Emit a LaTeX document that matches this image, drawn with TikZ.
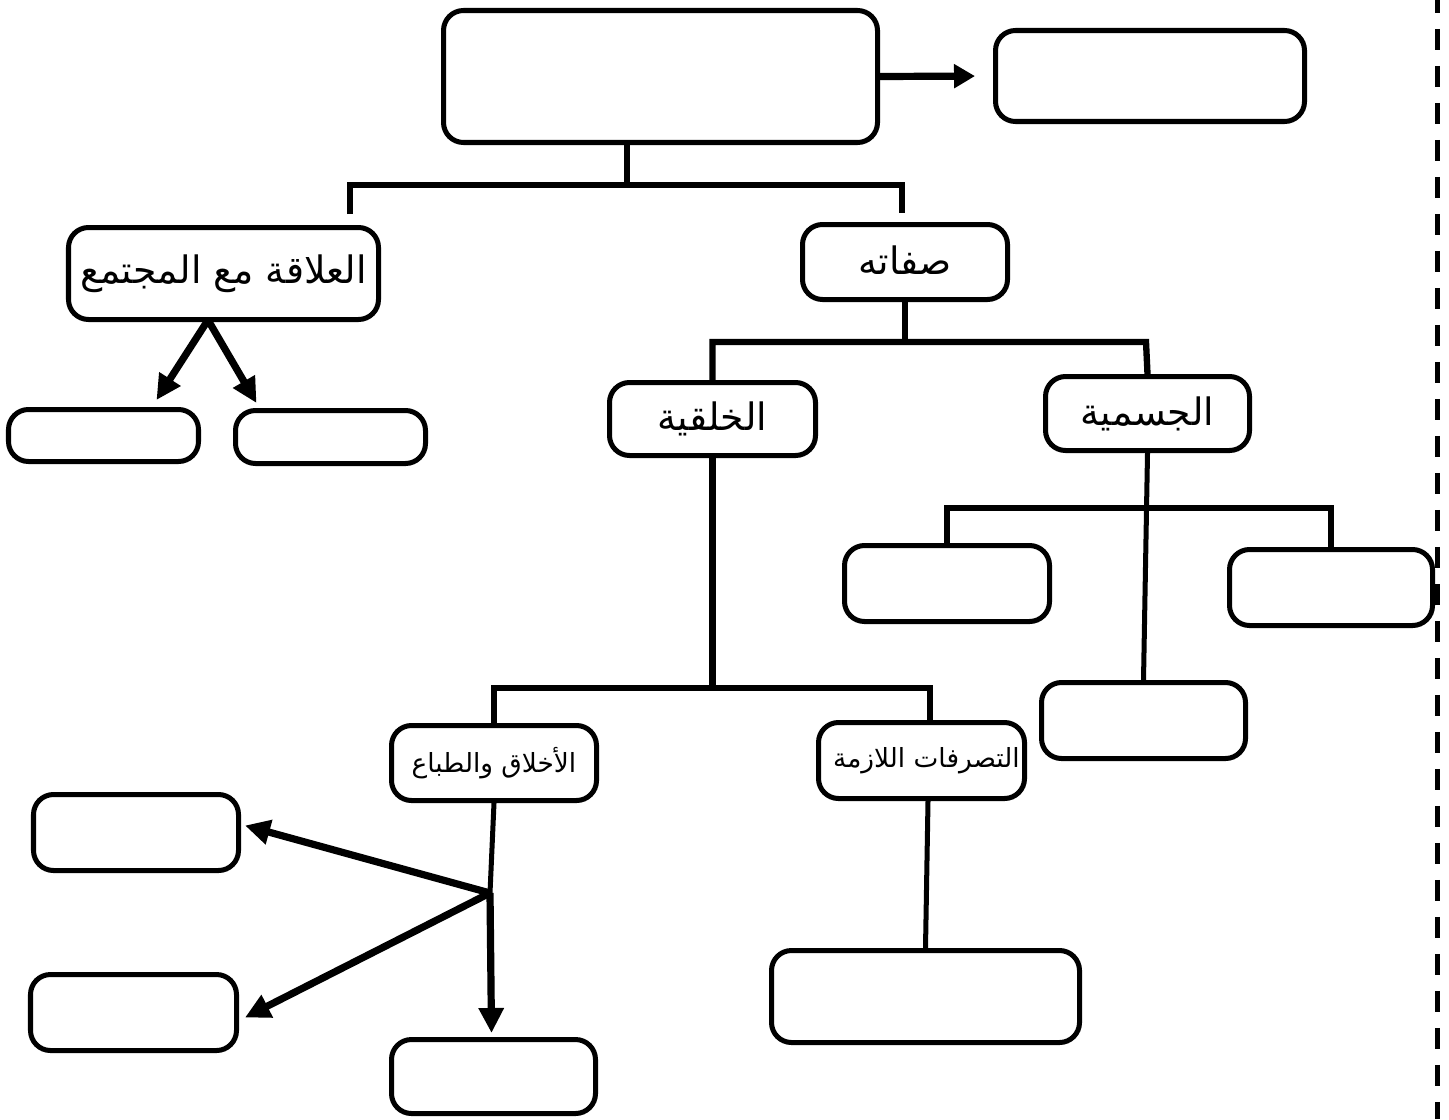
\documentclass[tikz,border=0pt]{standalone}
\usepackage{fontspec}
\newfontfamily\arabicfont[Script=Arabic]{DejaVu Sans}
\TeXXeTstate=1
\usetikzlibrary{arrows.meta,calc}

\tikzset{
  box/.style 2 args={draw,line width=2.85pt,rounded corners=0.4cm,inner sep=0pt,
    minimum width=#1*0.02cm,minimum height=#2*0.02cm},
  bigtxt/.style={font=\arabicfont\fontsize{21.5}{24}\selectfont},
  smalltxt/.style={font=\arabicfont\fontsize{15}{18}\selectfont},
  tree/.style={line width=3.6pt},
  stem/.style={line width=2.85pt},
  arr/.style={line width=4.1pt,-{Triangle[length=0.5cm,width=0.48cm]}}
}

\begin{document}
\begin{tikzpicture}[x=0.02cm,y=-0.02cm]
\useasboundingbox (0,0) rectangle (1449,1119);

\node[box={434}{132}] (main) at (660.5,76.5) {};
\node[box={309}{91}] (topright) at (1150,76) {};
\node[box={310}{92},bigtxt] (social) at (223.5,273.5) {\raisebox{0.12cm}{\beginR العلاقة مع المجتمع\endR}};
\node[box={205}{75},bigtxt] (sifat) at (905,262) {\raisebox{0.08cm}{\beginR صفاته\endR}};
\node[box={190}{52}] (L1) at (103.5,435.5) {};
\node[box={190}{53}] (L2) at (330.5,437) {};
\node[box={206}{73},bigtxt] (khuluq) at (712.5,419) {\raisebox{0.1cm}{\beginR الخلقية\endR}};
\node[box={204}{74},bigtxt] (jism) at (1147.5,413.5) {\raisebox{0.08cm}{\beginR الجسمية\endR}};
\node[box={205}{76}] (JL) at (947,583.5) {};
\node[box={203}{76}] (JR) at (1331,587.5) {};
\node[box={204}{76}] (JB) at (1143.5,720.5) {};
\node[box={205}{75},smalltxt] (akhlaq) at (494,763) {\raisebox{0.06cm}{\beginR الأخلاق والطباع\endR}};
\node[box={206}{76},smalltxt] (tasar) at (921.5,760.5) {\hspace*{0.2cm}\raisebox{0.08cm}{\beginR التصرفات اللازمة\endR}};
\node[box={205}{76}] (LA) at (136,832.5) {};
\node[box={206}{76}] (LB) at (133.5,1012.5) {};
\node[box={204}{74}] (AB) at (493.5,1076.5) {};
\node[box={308}{92}] (TB) at (925.5,996.5) {};

\coordinate (topstem) at (627,185);
\coordinate (topbarL) at (350,185);
\coordinate (topbarR) at (902,185);
\draw[tree] (topstem |- main.south) -- (topstem);
\draw[tree,shorten <=0.22cm,shorten >=0.18cm] (social.north -| topbarL) |- (topbarR) -- (sifat.north -| topbarR);
\draw[arr,-{Triangle[length=0.42cm,width=0.46cm]},shorten >=0.36cm] (main.east) -- (topright.west);

\coordinate (sroot) at (208,320);
\draw[arr] (sroot) -- ($(L1.north)+(53,-7)$);
\draw[arr] (sroot) -- ($(L2.north)+(-74,-5)$);

\coordinate (sbarL) at (714,342);
\coordinate (sbarR) at (1146,342);
\draw[tree] (sifat.south) -- (sifat.south |- sbarL);
\draw[tree] (khuluq.north) |- (sbarR) -- (jism.north);

\coordinate (jbarL) at (948,508);
\coordinate (jbarR) at (1331,508);
\draw[stem] (jism.south) -- (JB.north);
\draw[tree] (JL.north) |- (jbarR) -- (jbarR |- JR.north);

\coordinate (kbarL) at (494,688);
\coordinate (kbarR) at (930,688);
\draw[tree] (khuluq.south) -- (khuluq.south |- kbarL);
\draw[tree] (akhlaq.north) |- (kbarR) -- (kbarR |- tasar.north);

\coordinate (ajunc) at (490,893);
\draw[stem] (akhlaq.south) -- (ajunc);
\draw[arr] (ajunc) -- ($(LA.east)+(4,-7)$);
\draw[arr] (ajunc) -- ($(LB.east)+(6,5)$);
\draw[arr] (ajunc) -- ($(AB.north)+(-2,-4)$);

\draw[stem] ([xshift=0.13cm]tasar.south) -- (TB.north);

\draw[line width=0.1cm,dash pattern=on 0.42cm off 0.32cm,dash phase=0.16cm] (1437,0) -- (1437,1119);
\end{tikzpicture}
\end{document}
